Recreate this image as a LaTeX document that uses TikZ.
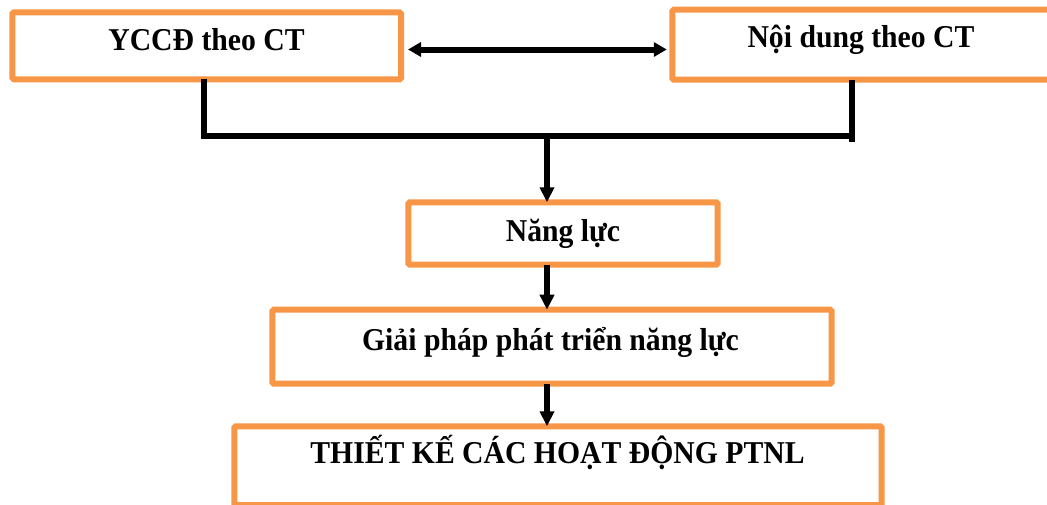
\documentclass[tikz,border=0pt]{standalone}
\usepackage{fontspec}
\setmainfont{Liberation Serif}
\usetikzlibrary{arrows.meta,calc}
\definecolor{boxorange}{HTML}{F79646}
\newcommand{\tallt}[1]{\scalebox{1}[1.07]{#1}}
\tikzset{
  box/.style={draw=boxorange, line width=6pt, rounded corners=1.5pt, inner sep=0pt, outer sep=0pt, fill=white},
  lbl/.style={anchor=base, inner sep=0pt, font=\bfseries\fontsize{29.7}{34}\selectfont},
  conn/.style={draw=black, line width=6pt},
  arr/.style={conn, -{Triangle[width=14pt,length=15pt]}},
  darr/.style={conn, {Triangle[width=14pt,length=13pt]}-{Triangle[width=14pt,length=13pt]}}
}
\begin{document}
\begin{tikzpicture}[x=1pt,y=-1pt]
\useasboundingbox (0,0) rectangle (1047,504);
\clip (0,0) rectangle (1047,504);
% boxes
\node[box, minimum width=388.7pt, minimum height=67pt] (b1) at (206.65,45.8) {};
\node[box, minimum width=377.7pt, minimum height=70pt] (b2) at (861.15,44.7) {};
\node[box, minimum width=309.4pt, minimum height=62.4pt] (b3) at (563,233.5) {};
\node[box, minimum width=559.4pt, minimum height=74pt] (b4) at (552,346.7) {};
\node[box, minimum width=647.4pt, minimum height=78.7pt] (b5) at (558,465.65) {};
% labels
\node[lbl] (t1) at (206.5,50.7) {\tallt{YCCĐ theo CT}};
\node[lbl] (t2) at (861,47.3) {\tallt{Nội dung theo CT}};
\node[lbl] (t3) at (563,241.7) {\tallt{Năng lực}};
\node[lbl] (t4) at (550.5,350.7) {\tallt{Giải pháp phát triển năng lực}};
\node[lbl] (t5) at (557.5,463.5) {\tallt{THIẾT KẾ CÁC HOẠT ĐỘNG PTNL}};
% connectors
\coordinate (ay) at (0,49.5);
\coordinate (jr) at (852,135.7);
\coordinate (jc) at (547,135.7);
\draw[darr] ($(b1.east|-ay)+(7,0)$) -- ($(b2.west|-ay)+(-5.5,0)$);
\draw[conn] ($(b1.south)+(-3,0)$) |- (jr);
\draw[conn] (b2.south -| jr) -- ($(jr)+(0,6)$);
\draw[arr] (jc) -- (b3.north -| jc);
\draw[arr] (b3.south -| jc) -- (b4.north -| jc);
\draw[arr] (b4.south -| jc) -- (b5.north -| jc);
\end{tikzpicture}
\end{document}
